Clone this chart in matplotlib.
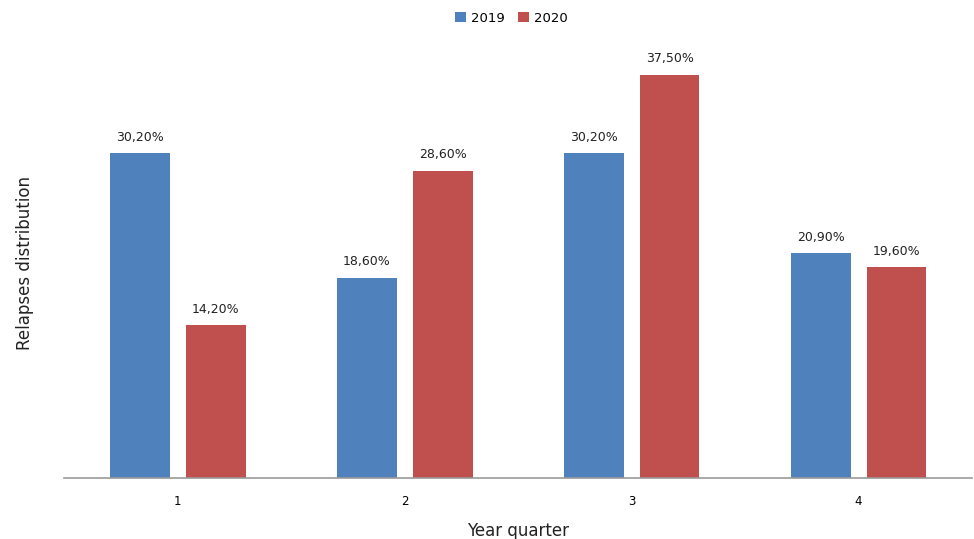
import numpy as np
import matplotlib
matplotlib.use("Agg")
import matplotlib.pyplot as plt

# Données
quarters = ["1", "2", "3", "4"]
vals_2019 = [30.2, 18.6, 30.2, 20.9]
vals_2020 = [14.2, 28.6, 37.5, 19.6]
series = ["2019", "2020"]

fig = plt.figure(figsize=(9.74, 5.39), dpi=100)
ax = fig.add_axes([0.066, 0.113, 0.932, 0.798])

x = np.arange(len(quarters))
w = 0.264
off = 0.167
b1 = ax.bar(x - off, vals_2019, w, color="#4F81BD", label=series[0])
b2 = ax.bar(x + off, vals_2020, w, color="#C0504D", label=series[1])

for bars, vals in [(b1, vals_2019), (b2, vals_2020)]:
    for b, v in zip(bars, vals):
        ax.annotate(f"{v:.2f}%".replace(".", ","),
                    (b.get_x() + b.get_width() / 2, v),
                    xytext=(0, 7), textcoords="offset points",
                    ha="center", va="bottom", fontsize=9, color="#222222")

ax.set_xlim(-0.5, 3.5)
ax.set_ylim(0, 40)
ax.set_xticks(x)
ax.set_xticklabels(quarters, fontsize=8.5)
ax.set_yticks([])
ax.tick_params(axis="x", length=0, pad=12)
for s in ["top", "right", "left"]:
    ax.spines[s].set_visible(False)
ax.spines["bottom"].set_color("#999999")
ax.spines["bottom"].set_linewidth(1.2)

ax.set_xlabel("Year quarter", fontsize=12, color="#222222", labelpad=10)
ax.set_ylabel("Relapses distribution", fontsize=12, color="#222222", labelpad=22)

fig.legend(loc="upper center", bbox_to_anchor=(0.525, 1.0), ncol=2, frameon=False,
           fontsize=9.5, handlelength=0.8, handleheight=0.8, handletextpad=0.4,
           columnspacing=1.0)

fig.savefig("out.png", dpi=100)
